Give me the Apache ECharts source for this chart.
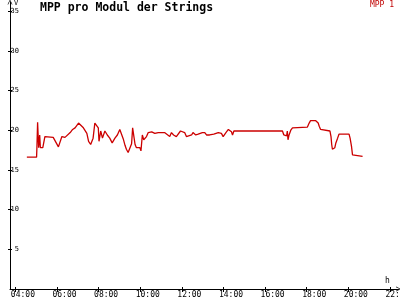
<!DOCTYPE html>
<html><head><meta charset="utf-8">
<script src="https://cdn.jsdelivr.net/npm/echarts@6/dist/echarts.min.js"></script>
<style>html,body{margin:0;padding:0;background:#fff}#c{width:400px;height:300px}</style>
</head><body><div id="c"></div>
<script>
var times = ["04:33","05:01","05:02","05:04","05:07","05:10","05:12","05:19","05:20","05:25","05:30","05:49","05:52","06:04","06:14","06:18","06:23","06:28","06:38","06:45","06:52","07:02","07:07","07:16","07:21","07:26","07:31","07:37","07:44","07:49","07:54","07:59","08:01","08:06","08:11","08:18","08:25","08:32","08:39","08:47","08:54","09:01","09:06","09:11","09:16","09:20","09:25","09:30","09:35","09:38","09:42","09:45","09:49","09:59","10:02","10:06","10:10","10:18","10:23","10:33","10:42","10:52","10:54","11:01","11:10","11:15","11:25","11:30","11:36","11:44","11:49","11:56","12:01","12:08","12:13","12:16","12:28","12:32","12:40","12:47","12:52","12:59","13:06","13:11","13:20","13:25","13:32","13:45","13:54","13:59","14:07","14:14","14:18","14:23","14:26","14:30","14:38","16:50","16:54","16:59","17:02","17:04","17:06","17:09","17:14","17:19","17:23","18:02","18:07","18:11","18:26","18:33","18:36","18:40","18:45","19:07","19:10","19:12","19:14","19:17","19:21","19:24","19:29","19:33","20:02","20:05","20:09","20:12","20:15","20:41"];
var mpp1 = [16.6,16.6,17.8,21.0,17.8,19.4,17.8,17.8,17.6,19.2,19.2,19.1,18.9,17.9,19.2,19.4,19.1,19.3,19.7,20.1,20.3,20.9,20.7,20.3,20.1,19.6,18.6,18.2,19.0,20.9,21.1,20.3,18.6,19.9,19.0,19.9,19.4,19.0,18.4,19.0,19.4,20.1,19.5,18.9,18.1,17.6,17.2,17.2,18.3,20.3,19.1,18.2,17.8,17.8,17.4,19.4,18.8,19.2,19.7,19.8,19.6,19.7,19.9,19.7,19.7,19.6,19.2,19.7,19.4,19.2,19.3,19.9,19.7,19.7,19.2,19.4,19.4,19.7,19.4,19.5,19.4,19.7,19.7,19.4,19.4,19.2,19.5,19.7,19.6,19.2,19.7,20.1,20.2,19.8,19.4,19.9,19.9,19.9,19.4,19.6,19.3,19.9,18.8,19.4,20.0,20.3,20.4,20.4,20.9,21.2,21.2,20.9,20.5,20.1,19.9,19.9,19.2,18.2,17.6,17.8,17.8,18.4,19.0,19.5,19.5,19.0,18.0,16.9,16.8,16.7];
var xTicks = [4,6,8,10,12,14,16,18,20,22];
var yTicks = [5,10,15,20,25,30,35];
var title = "MPP pro Modul der Strings";
var seriesName = "MPP 1";

function toH(s){var p=s.split(":");return +p[0]+(+p[1])/60;}
var data = times.map(function(t,i){return [toH(t), mpp1[i]];});
function fmtH(v){var h=Math.round(v);return (h<10?"0":"")+h+":00";}

var chart = echarts.init(document.getElementById('c'), null, {renderer:'canvas'});
var mono = "'DejaVu Sans Mono', 'Liberation Mono', monospace";
var arrowPath = 'path://M0,10 L5,0 L10,10 L8.6,10 L5,2.6 L1.4,10 Z';
chart.setOption({
  animation:false,
  backgroundColor:'#ffffff',
  grid:{left:10, right:1.5, top:2, bottom:11, containLabel:false, outerBoundsMode:'none'},
  xAxis:[{
    type:'value', min:3.74, max:22.41,
    axisLine:{show:true, lineStyle:{color:'#000', width:1}, symbol:['none', arrowPath], symbolSize:[8,5]},
    axisTick:{show:true, length:3, customValues:xTicks, lineStyle:{color:'#000'}},
    axisLabel:{show:true, customValues:xTicks, formatter:fmtH, color:'#000', fontFamily:mono, fontSize:8, margin:2, align:'center', padding:[0,0,0,15], hideOverlap:false},
    splitLine:{show:false}
  },{
    type:'value', min:3.74, max:22.41, position:'bottom',
    axisLine:{show:false},
    axisTick:{show:true, inside:true, length:2, customValues:xTicks, lineStyle:{color:'#000'}},
    axisLabel:{show:false}, splitLine:{show:false}
  }],
  yAxis:[{
    type:'value', min:0, max:36.15,
    axisLine:{show:true, lineStyle:{color:'#000', width:1}, symbol:['none', arrowPath], symbolSize:[8,5]},
    axisTick:{show:true, length:2, customValues:yTicks, lineStyle:{color:'#000'}},
    axisLabel:{show:true, inside:true, customValues:yTicks, color:'#000', fontFamily:mono, fontSize:7, margin:9, align:'right'},
    splitLine:{show:false}
  },{
    type:'value', min:0, max:36.15, position:'left',
    axisLine:{show:false},
    axisTick:{show:true, inside:true, length:2, customValues:yTicks, lineStyle:{color:'#000'}},
    axisLabel:{show:false}, splitLine:{show:false}
  }],
  series:[{
    name:seriesName, type:'line', data:data, showSymbol:false, symbol:'none',
    lineStyle:{color:'#cc0000', width:1.3}, itemStyle:{color:'#cc0000'}
  }],
  graphic:[
    {type:'text', left:40, top:2, style:{text:title, font:"bold 11.5px "+mono, fill:'#000'}},
    {type:'text', right:6, top:1, style:{text:seriesName, font:"8px "+mono, fill:'#c00000'}},
    {type:'text', left:14, top:0, style:{text:'V', font:"7px "+mono, fill:'#000'}},
    {type:'text', left:385, top:277, style:{text:'h', font:"8px "+mono, fill:'#000'}}
  ]
});
</script></body></html>
